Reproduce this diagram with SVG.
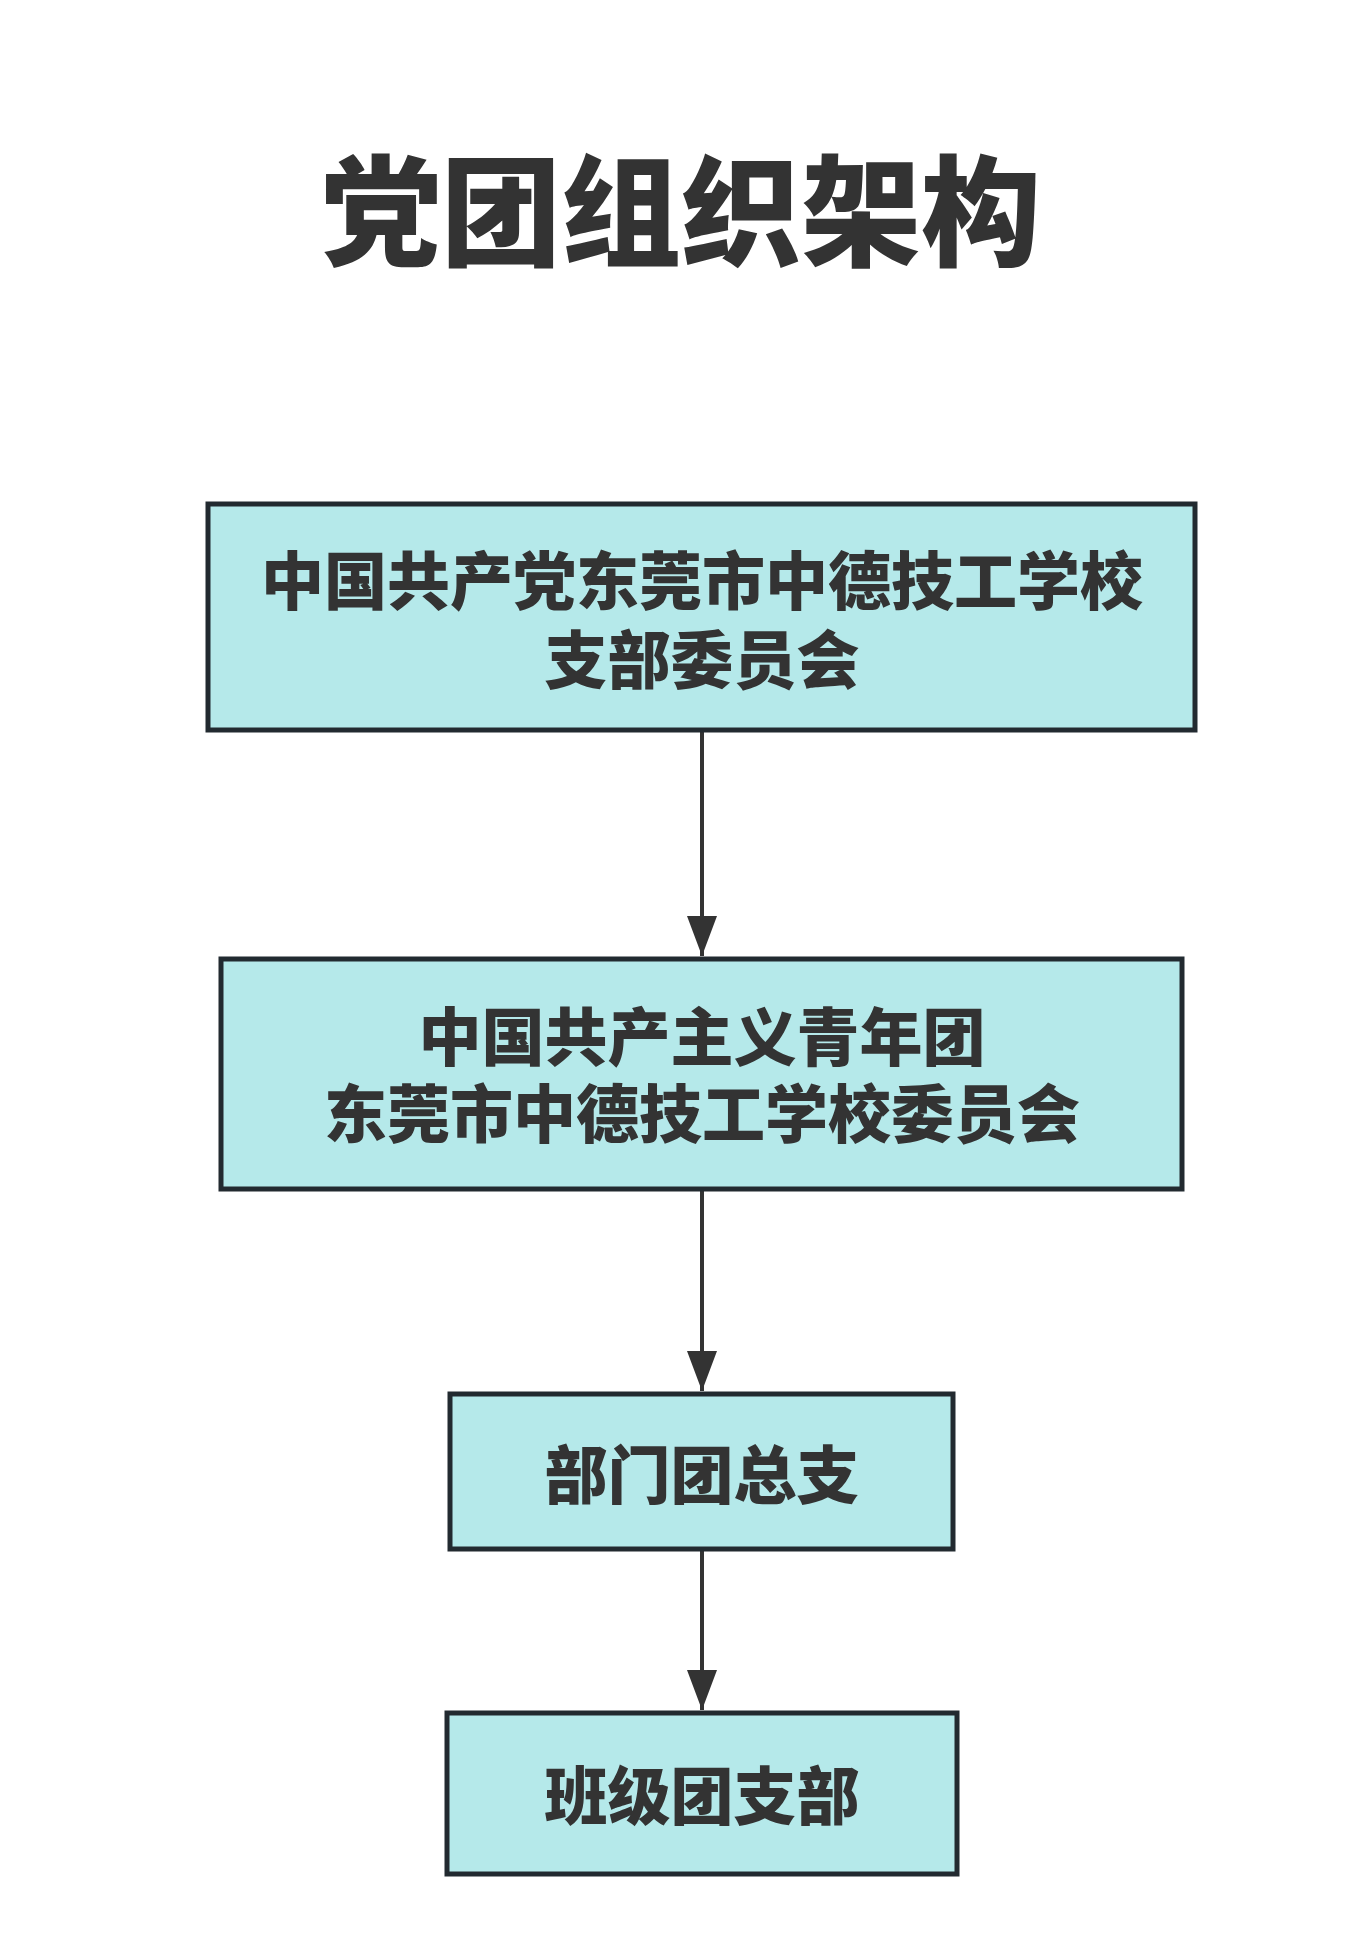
<svg xmlns="http://www.w3.org/2000/svg" width="1362" height="1950" viewBox="0 0 1362 1950">
<defs>
<style>
.box{fill:#b5e9ea;stroke:#222a30;stroke-width:5}
.lbl{font-family:"Noto Sans CJK SC","Noto Sans",sans-serif;font-weight:900;font-size:63px;fill:#333333;text-anchor:middle}
.title{font-family:"Noto Sans CJK SC","Noto Sans",sans-serif;font-weight:900;font-size:120px;fill:#333333;text-anchor:middle}
.edge{stroke:#333333;stroke-width:4;fill:none}
</style>
<marker id="arrow" viewBox="0 0 30 40" refX="15" refY="40" markerWidth="30" markerHeight="40" markerUnits="userSpaceOnUse" orient="0">
<path d="M0,0 L30,0 L15,40 Z" fill="#333333"/>
</marker>
</defs>
<rect width="1362" height="1950" fill="#ffffff"/>
<text class="title" x="681" y="257">党团组织架构</text>
<g id="connectors">
<line class="edge" x1="702" y1="732" x2="702" y2="956" marker-end="url(#arrow)"/>
<line class="edge" x1="702" y1="1191" x2="702" y2="1391" marker-end="url(#arrow)"/>
<line class="edge" x1="702" y1="1551" x2="702" y2="1710" marker-end="url(#arrow)"/>
</g>
<g id="node1">
<rect class="box" x="208" y="504" width="987" height="226"/>
<text class="lbl" x="702" y="604"><tspan x="702">中国共产党东莞市中德技工学校</tspan><tspan x="702" dy="79">支部委员会</tspan></text>
</g>
<g id="node2">
<rect class="box" x="221" y="959" width="961" height="230"/>
<text class="lbl" x="702" y="1060"><tspan x="702">中国共产主义青年团</tspan><tspan x="702" dy="77">东莞市中德技工学校委员会</tspan></text>
</g>
<g id="node3">
<rect class="box" x="450" y="1394" width="503" height="155"/>
<text class="lbl" x="702" y="1498">部门团总支</text>
</g>
<g id="node4">
<rect class="box" x="447" y="1713" width="510" height="161"/>
<text class="lbl" x="702" y="1819">班级团支部</text>
</g>
</svg>
